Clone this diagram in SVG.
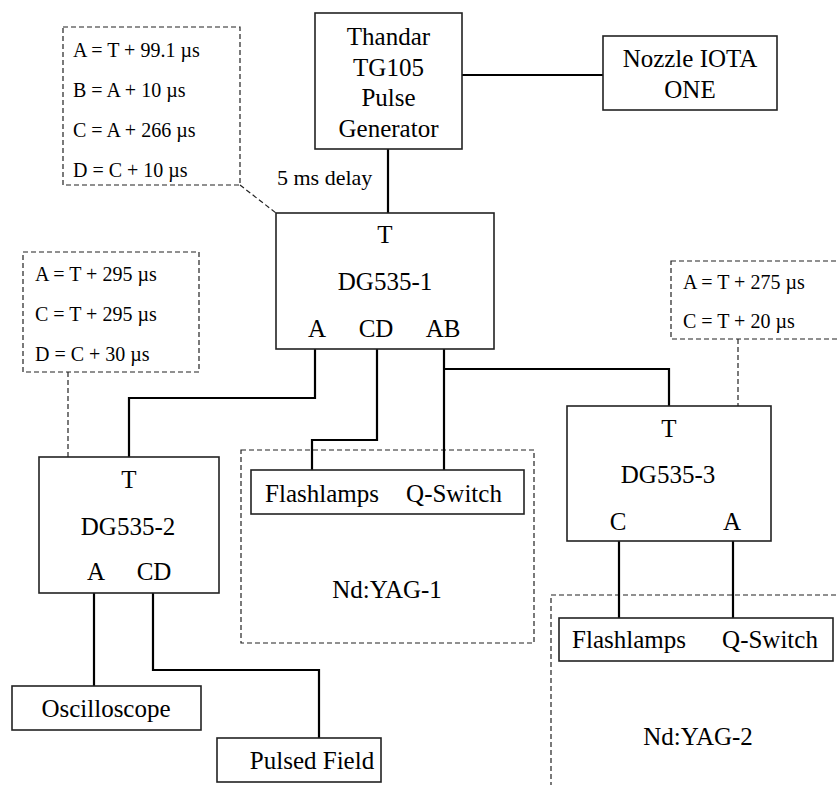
<svg xmlns="http://www.w3.org/2000/svg" width="838" height="785" viewBox="0 0 838 785" font-family="'Liberation Serif', 'Times New Roman', 'DejaVu Serif', serif">
<style>
text{font-family:'Liberation Serif','Times New Roman','DejaVu Serif',serif;fill:#000}
.n{font-size:25px;text-anchor:middle}
.a{font-size:20px}
.box{fill:#fff;stroke:#222;stroke-width:1.6}
.dash{fill:none;stroke:#222;stroke-width:1.2;stroke-dasharray:5,3}
.w{fill:none;stroke:#000;stroke-width:2.2}
</style>
<rect width="838" height="785" fill="#fff"/>
<g id="nd-yag-1">
<rect class="dash" x="241" y="450" width="293" height="193"/>
<text class="n" x="387" y="598">Nd:YAG-1</text>
</g>
<g id="nd-yag-2">
<rect class="dash" x="551" y="595" width="300" height="200"/>
<text class="n" x="698" y="745">Nd:YAG-2</text>
</g>
<g id="connectors">
<line class="w" x1="462" y1="75" x2="603" y2="75"/>
<line class="w" x1="388" y1="149" x2="388" y2="213"/>
<polyline class="w" points="315,349 315,398 129,398 129,457"/>
<polyline class="w" points="377,349 377,440 312,440 312,470"/>
<line class="w" x1="444" y1="349" x2="444" y2="470"/>
<polyline class="w" points="444,369 669,369 669,406"/>
<line class="w" x1="619" y1="541" x2="619" y2="618"/>
<line class="w" x1="733" y1="541" x2="733" y2="618"/>
<line class="w" x1="94" y1="593" x2="94" y2="686"/>
<polyline class="w" points="153,593 153,670 319,670 319,738"/>
<line class="dash" x1="240" y1="185" x2="276" y2="213"/>
<line class="dash" x1="68" y1="372" x2="68" y2="457"/>
<line class="dash" x1="738" y1="339" x2="738" y2="406"/>
</g>
<g id="thandar">
<rect class="box" x="315" y="13" width="147" height="136"/>
<text class="n" x="388.5" y="45">Thandar</text>
<text class="n" x="388.5" y="76">TG105</text>
<text class="n" x="388.5" y="106">Pulse</text>
<text class="n" x="388.5" y="137">Generator</text>
</g>
<g id="nozzle">
<rect class="box" x="603" y="36" width="174" height="74"/>
<text class="n" x="690" y="67">Nozzle IOTA</text>
<text class="n" x="690" y="98">ONE</text>
</g>
<g id="delay-label">
<text class="a" x="277" y="185" style="font-size:22px">5 ms delay</text>
</g>
<g id="settings-1">
<rect class="dash" x="63" y="27" width="177" height="158"/>
<text class="a" x="73" y="57">A = T + 99.1 µs</text>
<text class="a" x="73" y="97">B = A + 10 µs</text>
<text class="a" x="73" y="137">C = A + 266 µs</text>
<text class="a" x="73" y="177">D = C + 10 µs</text>
</g>
<g id="settings-2">
<rect class="dash" x="23" y="252" width="176" height="120"/>
<text class="a" x="35" y="281">A = T + 295 µs</text>
<text class="a" x="35" y="321">C = T + 295 µs</text>
<text class="a" x="35" y="361">D = C + 30 µs</text>
</g>
<g id="settings-3">
<rect class="dash" x="671" y="261" width="180" height="78"/>
<text class="a" x="683" y="289">A = T + 275 µs</text>
<text class="a" x="683" y="328">C = T + 20 µs</text>
</g>
<g id="dg535-1">
<rect class="box" x="276" y="213" width="218" height="136"/>
<text class="n" x="385" y="243">T</text>
<text class="n" x="385" y="290">DG535-1</text>
<text class="n" x="317" y="337">A</text>
<text class="n" x="376" y="337">CD</text>
<text class="n" x="443" y="337">AB</text>
</g>
<g id="dg535-2">
<rect class="box" x="39" y="457" width="180" height="136"/>
<text class="n" x="129" y="488">T</text>
<text class="n" x="128" y="535">DG535-2</text>
<text class="n" x="96" y="580">A</text>
<text class="n" x="154" y="580">CD</text>
</g>
<g id="dg535-3">
<rect class="box" x="567" y="406" width="204" height="135"/>
<text class="n" x="669" y="437">T</text>
<text class="n" x="668" y="483">DG535-3</text>
<text class="n" x="618" y="530">C</text>
<text class="n" x="732" y="530">A</text>
</g>
<g id="lamps-1">
<rect class="box" x="251" y="470" width="273" height="44"/>
<text class="n" x="322" y="502">Flashlamps</text>
<text class="n" x="454" y="502">Q-Switch</text>
</g>
<g id="lamps-2">
<rect class="box" x="559" y="618" width="274" height="43"/>
<text class="n" x="629" y="648">Flashlamps</text>
<text class="n" x="770" y="648">Q-Switch</text>
</g>
<g id="oscilloscope">
<rect class="box" x="12" y="686" width="189" height="44"/>
<text class="n" x="106" y="717">Oscilloscope</text>
</g>
<g id="pulsed-field">
<rect class="box" x="217" y="738" width="164" height="44"/>
<text class="n" x="312" y="769">Pulsed Field</text>
</g>
</svg>
